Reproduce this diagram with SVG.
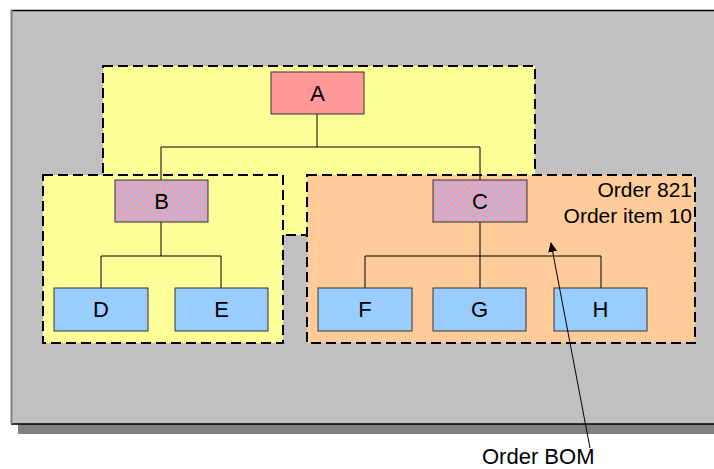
<svg xmlns="http://www.w3.org/2000/svg" width="714" height="469" viewBox="0 0 714 469">
<defs>
<style>
.grp{stroke:#000;stroke-width:2;stroke-dasharray:10,5;}
.node{stroke:#333;stroke-width:1;}
.lbl{font-family:"Liberation Sans",Arial,sans-serif;font-size:22px;fill:#000;text-anchor:middle;}
.note{font-family:"Liberation Sans",Arial,sans-serif;font-size:21px;fill:#000;}
.con{stroke:#000;stroke-width:1;fill:none;}
</style>
<pattern id="hatch" patternUnits="userSpaceOnUse" width="5" height="5" patternTransform="rotate(45)">
<rect width="5" height="5" fill="#F4A0A8"/>
<rect width="2" height="5" fill="#A8B8F0"/>
</pattern>
<marker id="arr" markerWidth="10" markerHeight="10" refX="9" refY="5" orient="auto" markerUnits="userSpaceOnUse">
<path d="M0,0.5 L10,5 L0,9.5 Z" fill="#000"/>
</marker>
</defs>
<g id="panel">
<rect x="18" y="424" width="700" height="10" fill="#808080"/>
<rect x="11" y="10" width="710" height="414" fill="#C0C0C0"/>
<line x1="11" y1="10.5" x2="714" y2="10.5" stroke="#000" stroke-width="1.5"/>
<line x1="11" y1="424" x2="714" y2="424" stroke="#000" stroke-width="1.5"/>
<line x1="11.5" y1="10" x2="11.5" y2="424" stroke="#808080" stroke-width="2"/>
</g>
<g id="group-top"><rect class="grp" x="103" y="66" width="432" height="169" fill="#FFFF99"/></g>
<g id="group-B"><rect class="grp" x="43" y="175" width="240" height="168" fill="#FFFF99"/></g>
<g id="group-C"><rect class="grp" x="307" y="175" width="388" height="168" fill="#FFCC99"/></g>
<g id="connectors">
<path class="con" d="M317,114 V147 M161,147 H480 M161,147 V180 M480,147 V180"/>
<path class="con" d="M161,222 V256 M101,256 H221 M101,256 V288 M221,256 V288"/>
<path class="con" d="M480,222 V288 M365,256 H601 M365,256 V288 M601,256 V288"/>
</g>
<g id="node-A"><rect class="node" x="271" y="72" width="93" height="42" fill="#FF9999"/><text class="lbl" x="317.5" y="101">A</text></g>
<g id="node-B"><rect class="node" x="115" y="180" width="93" height="42" fill="url(#hatch)"/><text class="lbl" x="161.5" y="209">B</text></g>
<g id="node-C"><rect class="node" x="433" y="180" width="94" height="42" fill="url(#hatch)"/><text class="lbl" x="480" y="209">C</text></g>
<g id="node-D"><rect class="node" x="54" y="288" width="94" height="43" fill="#99CCFF"/><text class="lbl" x="101" y="317">D</text></g>
<g id="node-E"><rect class="node" x="175" y="288" width="93" height="43" fill="#99CCFF"/><text class="lbl" x="221.5" y="317">E</text></g>
<g id="node-F"><rect class="node" x="318" y="288" width="94" height="43" fill="#99CCFF"/><text class="lbl" x="365" y="317">F</text></g>
<g id="node-G"><rect class="node" x="433" y="288" width="93" height="43" fill="#99CCFF"/><text class="lbl" x="479.5" y="317">G</text></g>
<g id="node-H"><rect class="node" x="554" y="288" width="93" height="43" fill="#99CCFF"/><text class="lbl" x="600.5" y="317">H</text></g>
<g id="order-label">
<text class="note" x="692" y="197" text-anchor="end">Order 821</text>
<text class="note" x="692" y="223" text-anchor="end">Order item 10</text>
</g>
<g id="bom-callout">
<line x1="590" y1="448" x2="551" y2="243" stroke="#000" stroke-width="1" marker-end="url(#arr)"/>
<text class="note" x="482" y="464" style="font-size:22px">Order BOM</text>
</g>
</svg>
